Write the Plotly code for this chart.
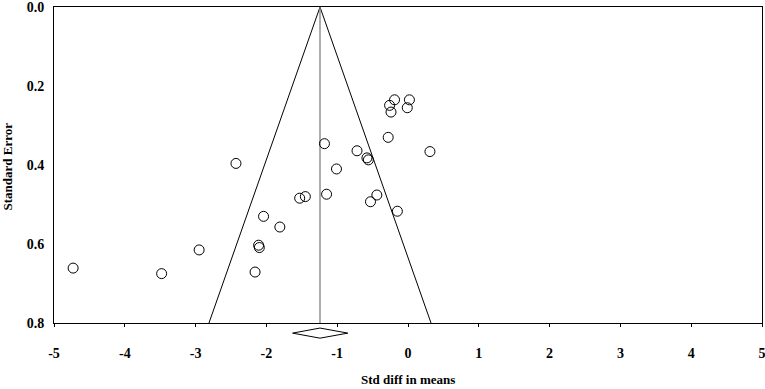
import plotly.graph_objects as go

# Study effect sizes (std diff in means) and standard errors
std_diff = [-0.19, -0.26, -0.24, 0.02, -0.01, -0.28, -1.18, -0.72, 0.31, -0.58,
            -0.56, -2.43, -1.01, -1.53, -1.45, -1.15, -0.44, -0.53, -0.15, -2.04,
            -1.81, -2.95, -2.11, -2.10, -2.16, -4.73, -3.48]
std_err = [0.235, 0.249, 0.266, 0.235, 0.255, 0.330, 0.346, 0.364, 0.366, 0.382,
           0.387, 0.396, 0.410, 0.484, 0.480, 0.474, 0.476, 0.493, 0.517, 0.530,
           0.557, 0.615, 0.603, 0.609, 0.671, 0.661, 0.675]

# Pooled estimate and its confidence interval (diamond)
pooled = -1.243
ci_low = -1.63
ci_high = -0.85
se_max = 0.8

x_ticks = [-5, -4, -3, -2, -1, 0, 1, 2, 3, 4, 5]
x_tick_labels = ["-5", "-4", "-3", "-2", "-1", "0", "1", "2", "3", "4", "5"]
y_ticks = [0.0, 0.2, 0.4, 0.6, 0.8]
y_tick_labels = ["0.0", "0.2", "0.4", "0.6", "0.8"]

FONT = "Liberation Serif"
TICKFONT = dict(family=FONT, size=14, color="black", weight="bold")

fig = go.Figure()

# Funnel lines
fig.add_trace(go.Scatter(
    x=[pooled - 1.96 * se_max, pooled, pooled + 1.96 * se_max],
    y=[se_max, 0, se_max],
    mode="lines", line=dict(color="black", width=1),
    hoverinfo="skip", showlegend=False))
# Vertical pooled line
fig.add_trace(go.Scatter(
    x=[pooled, pooled], y=[0, se_max],
    mode="lines", line=dict(color="#808080", width=1.3),
    hoverinfo="skip", showlegend=False))
# Study points
fig.add_trace(go.Scatter(
    x=std_diff, y=std_err, mode="markers",
    marker=dict(symbol="circle", size=10, color="rgba(0,0,0,0)",
                line=dict(color="black", width=1)),
    showlegend=False))

# Diamond below the axis
dy = 0.016
yc = -0.032
fig.add_shape(type="path", xref="x", yref="paper",
              path=f"M {ci_low},{yc} L {pooled},{yc+dy} L {ci_high},{yc} L {pooled},{yc-dy} Z",
              line=dict(color="black", width=1), fillcolor="white")

fig.update_layout(
    width=765, height=389,
    margin=dict(l=54, r=3, t=7, b=66, autoexpand=False),
    paper_bgcolor="white", plot_bgcolor="white",
    font=dict(family=FONT, size=14, color="black", weight="bold"),
    xaxis=dict(range=[-5, 5], tickvals=x_ticks, ticktext=x_tick_labels,
               ticks="outside", ticklen=3,
               tickcolor="black", showline=True, linecolor="black", linewidth=1,
               mirror=True, showgrid=False, zeroline=False, automargin=False,
               ticklabelstandoff=14, ticklabeloverflow="allow",
               tickfont=TICKFONT),
    yaxis=dict(range=[0.8, 0], tickvals=y_ticks, ticktext=y_tick_labels, ticks="",
               showline=True, linecolor="black", linewidth=1, mirror=True,
               showgrid=False, zeroline=False, ticklabelstandoff=6, automargin=False,
               ticklabeloverflow="allow", tickfont=TICKFONT),
    annotations=[
        dict(text="Std diff in means", xref="paper", yref="paper", x=0.5, y=-0.18,
             yanchor="middle", xanchor="center", showarrow=False,
             font=dict(family=FONT, size=13, color="black", weight="bold")),
        dict(text="Standard Error", xref="paper", yref="paper", x=-0.065, y=0.495,
             textangle=-90, xanchor="center", yanchor="middle", showarrow=False,
             font=dict(family=FONT, size=13, color="black", weight="bold")),
    ],
)

fig.write_html("out.html", config={"displayModeBar": False},
               post_script="document.body.style.margin='0';")
